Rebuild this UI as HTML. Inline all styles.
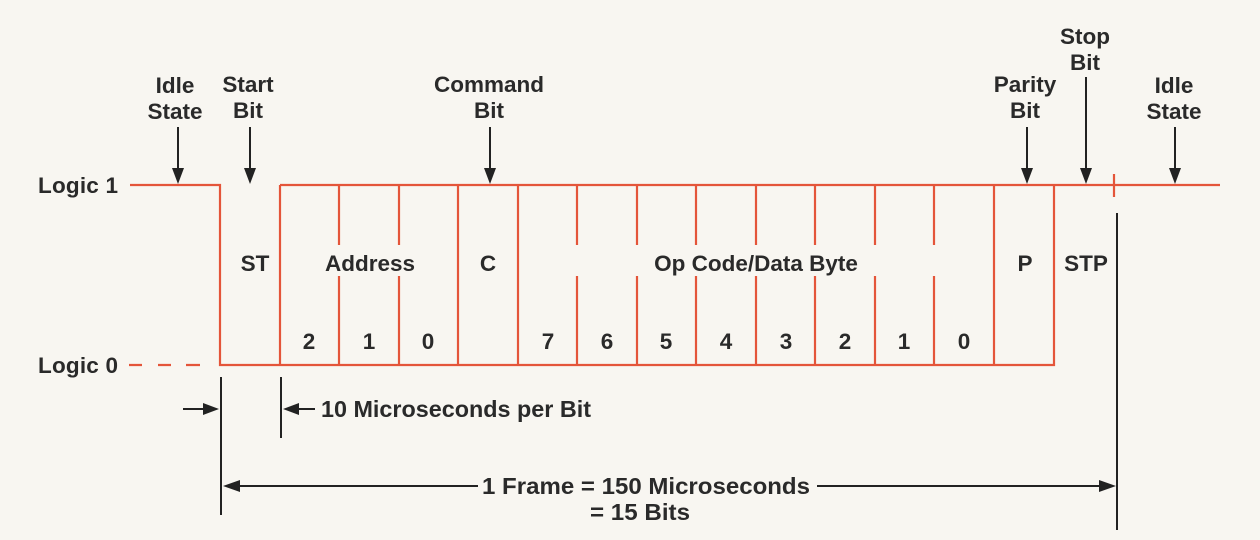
<!DOCTYPE html>
<html><head><meta charset="utf-8"><style>
html,body{margin:0;padding:0;background:#f8f6f1;}
svg{display:block;}
text{font-family:"Liberation Sans",Arial,sans-serif;fill:#2a2a2a;}
.b{font-weight:bold;font-size:22.5px;}
.r{font-size:23px;font-weight:bold;}
</style></head><body>
<svg width="1260" height="540" viewBox="0 0 1260 540" xmlns="http://www.w3.org/2000/svg">
<rect width="1260" height="540" fill="#f8f6f1"/>
<g stroke="#e4553a" stroke-width="2.2" fill="none">
<polyline points="130,185 220,185 220,365 1054,365 1054,185"/>
<line x1="280" y1="185" x2="1220" y2="185"/>
<line x1="280" y1="185" x2="280" y2="365"/>
<line x1="458" y1="185" x2="458" y2="365"/>
<line x1="518" y1="185" x2="518" y2="365"/>
<line x1="994" y1="185" x2="994" y2="365"/>
<line x1="1114" y1="174" x2="1114" y2="197"/>
<path d="M339 185V245M339 276V365 M399 185V245M399 276V365 M577 185V245M577 276V365 M637 185V245M637 276V365 M696 185V245M696 276V365 M756 185V245M756 276V365 M815 185V245M815 276V365 M875 185V245M875 276V365 M934 185V245M934 276V365"/>
<path d="M129 365H142 M158 365H171 M186 365H200"/>
</g>
<g stroke="#222" stroke-width="2" fill="none">
<line x1="178" y1="127" x2="178" y2="170"/>
<line x1="250" y1="127" x2="250" y2="170"/>
<line x1="490" y1="127" x2="490" y2="170"/>
<line x1="1027" y1="127" x2="1027" y2="170"/>
<line x1="1086" y1="77" x2="1086" y2="170"/>
<line x1="1175" y1="127" x2="1175" y2="170"/>
<line x1="221" y1="377" x2="221" y2="515"/>
<line x1="281" y1="377" x2="281" y2="438"/>
<line x1="1117" y1="213" x2="1117" y2="530"/>
<line x1="183" y1="409" x2="205" y2="409"/>
<line x1="296" y1="409" x2="315" y2="409"/>
<line x1="238" y1="486" x2="478" y2="486"/>
<line x1="817" y1="486" x2="1100" y2="486"/>
</g>
<g fill="#222">
<polygon points="172,168 184,168 178,184"/>
<polygon points="244,168 256,168 250,184"/>
<polygon points="484,168 496,168 490,184"/>
<polygon points="1021,168 1033,168 1027,184"/>
<polygon points="1080,168 1092,168 1086,184"/>
<polygon points="1169,168 1181,168 1175,184"/>
<polygon points="219,409 203,403 203,415"/>
<polygon points="283,409 299,403 299,415"/>
<polygon points="223,486 240,480 240,492"/>
<polygon points="1116,486 1099,480 1099,492"/>
</g>
<g class="b" text-anchor="middle">
<text x="175" y="93">Idle</text><text x="175" y="119">State</text>
<text x="248" y="92">Start</text><text x="248" y="118">Bit</text>
<text x="489" y="92">Command</text><text x="489" y="118">Bit</text>
<text x="1025" y="92">Parity</text><text x="1025" y="118">Bit</text>
<text x="1085" y="44">Stop</text><text x="1085" y="70">Bit</text>
<text x="1174" y="93">Idle</text><text x="1174" y="119">State</text>
<text x="255" y="271">ST</text>
<text x="370" y="271">Address</text>
<text x="488" y="271">C</text>
<text x="756" y="271">Op Code/Data Byte</text>
<text x="1025" y="271">P</text>
<text x="1086" y="271">STP</text>
<text x="309" y="349">2</text><text x="369" y="349">1</text><text x="428" y="349">0</text>
<text x="548" y="349">7</text><text x="607" y="349">6</text><text x="666" y="349">5</text><text x="726" y="349">4</text>
<text x="786" y="349">3</text><text x="845" y="349">2</text><text x="904" y="349">1</text><text x="964" y="349">0</text>
</g>
<text class="b" x="38" y="193" textLength="80">Logic 1</text>
<text class="b" x="38" y="373" textLength="80">Logic 0</text>
<text class="r" x="321" y="417" textLength="270" lengthAdjust="spacingAndGlyphs">10 Microseconds per Bit</text>
<text class="r" x="482" y="494" textLength="328" lengthAdjust="spacingAndGlyphs">1 Frame = 150 Microseconds</text>
<text class="r" x="590" y="520" textLength="100" lengthAdjust="spacingAndGlyphs">= 15 Bits</text>
</svg>
</body></html>
